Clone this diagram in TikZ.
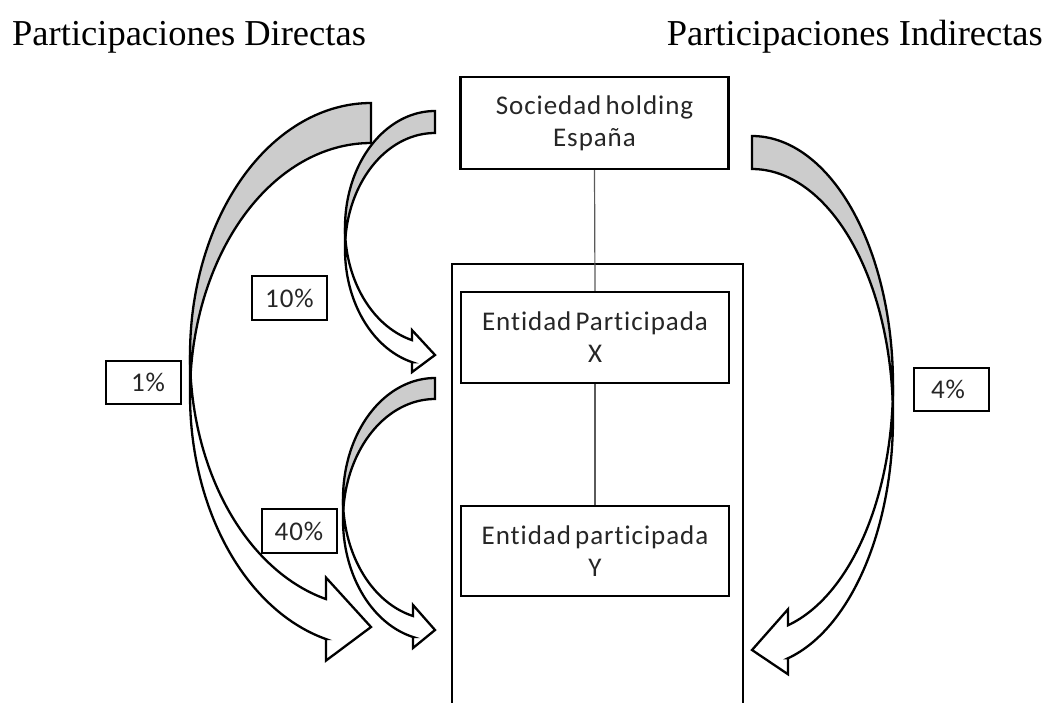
\documentclass[tikz,border=0pt]{standalone}
\usepackage{fontspec}
\setmainfont{Liberation Serif}
\newfontfamily\boxfont{Carlito}[LetterSpace=3.5,WordSpace=0.6,Ligatures=NoCommon]

\definecolor{backface}{RGB}{204,204,204}
\definecolor{linkgray}{RGB}{90,90,90}
\definecolor{labeltext}{RGB}{38,38,38}

\tikzset{
  entity/.style={draw, line width=2.4pt, fill=white, minimum width=268pt,
    inner sep=0pt, align=center, text=labeltext,
    font=\boxfont\fontsize{27}{32}\selectfont},
  pct/.style={draw, line width=2pt, fill=white, minimum width=75pt,
    minimum height=43pt, inner sep=0pt, text=labeltext,
    font=\boxfont\fontsize{27}{30}\selectfont},
  link/.style={draw=linkgray, line width=1.2pt},
  ribbon/.style={draw, line width=2.3pt, line join=miter},
  heading/.style={inner sep=0pt, font=\fontsize{36.5}{40}\selectfont},
  frame/.style={draw, line width=2.4pt}
}

% Curved block arrow made of two equal ellipses shifted by the band width.
% #1 side (1 = bulges left, -1 = bulges right), #2 x of tail and tip,
% #3 top of tail, #4 horizontal radius, #5 vertical radius,
% #6 band width, #7 head length, #8 head width
\newcommand\bentarrow[8]{%
  \pgfmathsetmacro\baSg{#1}%
  \pgfmathsetmacro\baR{#2}%
  \pgfmathsetmacro\baCa{#3+#5}%
  \pgfmathsetmacro\baCb{#3+#5+#6}%
  \pgfmathsetmacro\baTe{acos(-#7/#4)}%
  \pgfmathsetmacro\baAl{asin(#6/(2*#5))}%
  \pgfmathsetmacro\baLo{180-\baAl}%
  \pgfmathsetmacro\baHi{180+\baAl}%
  \pgfmathsetmacro\baX{#2-\baSg*#7}%
  \pgfmathsetmacro\baYa{\baCa+#5*sin(\baTe)}%
  \pgfmathsetmacro\baYb{\baCb+#5*sin(\baTe)}%
  \pgfmathsetmacro\baDh{(#8-#6)/2}%
  \pgfmathsetmacro\baTip{#3+2*#5+#6/2}%
  % front face with the head
  \draw[ribbon, fill=white]
    plot[domain=180:\baTe, samples=60] ({\baR+\baSg*#4*cos(\x)}, {\baCa+#5*sin(\x)})
    -- (\baX,\baYa-\baDh) -- (\baR,\baTip) -- (\baX,\baYb+\baDh) -- (\baX,\baYb)
    -- plot[domain=\baTe:180, samples=60] ({\baR+\baSg*#4*cos(\x)}, {\baCb+#5*sin(\x)})
    -- cycle;
  % back face near the tail
  \draw[ribbon, fill=backface]
    plot[domain=270:\baLo, samples=70] ({\baR+\baSg*#4*cos(\x)}, {\baCa+#5*sin(\x)})
    -- plot[domain=\baHi:270, samples=70] ({\baR+\baSg*#4*cos(\x)}, {\baCb+#5*sin(\x)})
    -- cycle;
}

\begin{document}
\begin{tikzpicture}[x=1pt,y=-1pt]
\useasboundingbox (0,0) rectangle (1059,702);

% headings
\node[heading, anchor=base west] (hdir) at (12,45) {Participaciones Directas};
\node[heading, anchor=base east] (hind) at (1043,45) {Participaciones Indirectas};

% group frame, open at the bottom
\coordinate (fbl) at (452,704);
\coordinate (ftl) at (452,264);
\coordinate (ftr) at (743,264);
\coordinate (fbr) at (743,704);
\draw[frame] (fbl) -- (ftl) -- (ftr) -- (fbr);

% entities
\node[entity, minimum height=92pt] (hold) at (594.5,123) {Sociedad holding\\España};
\node[entity, minimum height=91pt] (ex) at (595,337.5) {Entidad Participada\\X};
\node[entity, minimum height=90pt] (ey) at (595,551) {Entidad participada\\Y};

% ownership chain
\draw[link] (hold.south) -- (ex.north);
\draw[link] (ex.south) -- (ey.north);

% participation arrows
\bentarrow{1}{371}{103}{181}{252}{40}{45}{83}
\bentarrow{1}{435}{111}{90}{116.5}{22}{23}{42}
\bentarrow{1}{435}{378}{92}{120.75}{21}{22}{43}
\bentarrow{-1}{752}{136}{141}{248.75}{33}{36}{65}

% percentages
\node[pct, minimum height=44pt] (p10) at (289.5,298) {10\%};
\node[pct] (p1) at (143.5,382.5) {\hspace*{9pt}1\%};
\node[pct, minimum height=44pt] (p40) at (299,531) {40\%};
\node[pct] (p4) at (951.5,389.5) {4\%\hspace*{7pt}};
\end{tikzpicture}
\end{document}
